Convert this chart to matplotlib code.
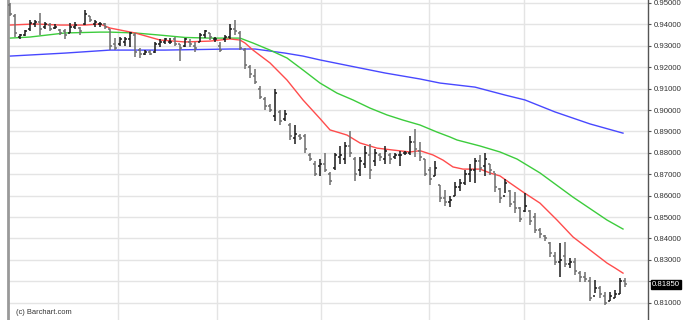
import numpy as np
import matplotlib
matplotlib.use("Agg")
import matplotlib.pyplot as plt

plt.rcParams['font.family'] = ['Liberation Sans', 'DejaVu Sans']

# daily OHLC bars, oldest first
highs = [.9500, .9450, .9355, .9375, .9420, .9420, .9455, .9410, .9405, .9400,
         .9380, .9380, .9405, .9410, .9390, .9465, .9440, .9420, .9410, .9405,
         .9380, .9335, .9340, .9340, .9365, .9360, .9290, .9280, .9280, .9320,
         .9330, .9335, .9335, .9340, .9310, .9335, .9330, .9320, .9360, .9375,
         .9360, .9340, .9320, .9350, .9400, .9420, .9370, .9290, .9210, .9190,
         .9110, .9060, .9030, .9100, .9000, .9000, .8940, .8930, .8890, .8890,
         .8800, .8760, .8770, .8800, .8710, .8800, .8830, .8850, .8900, .8780,
         .8780, .8830, .8840, .8820, .8800, .8830, .8800, .8800, .8810, .8810,
         .8880, .8910, .8850, .8770, .8735, .8760, .8650, .8625, .8600, .8665,
         .8680, .8720, .8750, .8775, .8790, .8800, .8750, .8705, .8635, .8680,
         .8625, .8615, .8545, .8610, .8535, .8520, .8450, .8415, .8385, .8335,
         .8380, .8385, .8310, .8310, .8250, .8245, .8220, .8205, .8180, .8150,
         .8150, .8160, .8215, .8215]
lows = [.9440, .9340, .9330, .9345, .9370, .9390, .9350, .9380, .9370, .9380,
        .9350, .9330, .9360, .9380, .9350, .9395, .9410, .9390, .9390, .9380,
        .9280, .9280, .9300, .9300, .9295, .9250, .9245, .9255, .9255, .9265,
        .9295, .9310, .9310, .9300, .9230, .9295, .9295, .9270, .9320, .9335,
        .9325, .9320, .9270, .9320, .9330, .9350, .9280, .9190, .9150, .9120,
        .9050, .9000, .8990, .8950, .8930, .8950, .8860, .8840, .8860, .8800,
        .8760, .8690, .8690, .8710, .8650, .8720, .8750, .8750, .8780, .8670,
        .8690, .8730, .8680, .8740, .8760, .8750, .8750, .8770, .8740, .8790,
        .8790, .8780, .8760, .8690, .8650, .8690, .8570, .8550, .8545, .8600,
        .8620, .8650, .8665, .8660, .8710, .8690, .8695, .8615, .8565, .8610,
        .8545, .8520, .8475, .8525, .8465, .8425, .8400, .8390, .8315, .8275,
        .8220, .8265, .8260, .8230, .8195, .8195, .8110, .8145, .8120, .8090,
        .8110, .8120, .8140, .8175]
opens = [.9490, .9440, .9340, .9350, .9380, .9400, .9410, .9390, .9395, .9385,
         .9375, .9370, .9360, .9390, .9385, .9400, .9440, .9400, .9400, .9400,
         .9380, .9310, .9310, .9320, .9330, .9350, .9280, .9260, .9270, .9270,
         .9310, .9320, .9320, .9330, .9310, .9300, .9320, .9300, .9320, .9350,
         .9360, .9330, .9300, .9330, .9340, .9380, .9360, .9280, .9200, .9160,
         .9100, .9050, .9020, .8970, .8990, .8960, .8930, .8870, .8880, .8880,
         .8790, .8750, .8740, .8750, .8700, .8730, .8780, .8770, .8830, .8770,
         .8720, .8750, .8790, .8760, .8790, .8770, .8790, .8780, .8790, .8800,
         .8800, .8850, .8810, .8770, .8720, .8690, .8650, .8590, .8570, .8600,
         .8640, .8660, .8700, .8720, .8760, .8740, .8750, .8710, .8630, .8600,
         .8620, .8570, .8540, .8530, .8530, .8500, .8440, .8410, .8380, .8320,
         .8290, .8320, .8280, .8290, .8240, .8220, .8200, .8130, .8170, .8130,
         .8110, .8120, .8140, .8200]
closes = [.9450, .9360, .9350, .9370, .9405, .9410, .9380, .9400, .9380, .9390,
          .9360, .9350, .9390, .9395, .9370, .9450, .9420, .9410, .9400, .9390,
          .9300, .9290, .9330, .9330, .9360, .9270, .9260, .9270, .9260, .9310,
          .9320, .9330, .9320, .9310, .9290, .9330, .9310, .9290, .9350, .9370,
          .9340, .9330, .9280, .9340, .9380, .9370, .9290, .9210, .9170, .9130,
          .9060, .9020, .9000, .9080, .8950, .8980, .8880, .8890, .8870, .8820,
          .8770, .8700, .8750, .8720, .8670, .8790, .8790, .8830, .8800, .8700,
          .8760, .8800, .8720, .8800, .8780, .8810, .8770, .8790, .8790, .8800,
          .8850, .8820, .8780, .8700, .8680, .8730, .8590, .8570, .8580, .8640,
          .8660, .8700, .8720, .8760, .8730, .8770, .8720, .8640, .8590, .8660,
          .8560, .8540, .8490, .8550, .8480, .8440, .8420, .8400, .8330, .8290,
          .8300, .8280, .8290, .8250, .8220, .8210, .8120, .8170, .8140, .8100,
          .8130, .8140, .8200, .8185]

# moving averages (bar index, value)
ma_fast_idx = [-0.4, 0, 5, 10, 15, 18, 20, 25, 30, 35, 40, 44, 46, 47, 48.6, 52,
               55.4, 58.6, 62, 64, 66, 67.4, 70, 73.4, 76.6, 80, 82, 84.6, 86.6,
               88.6, 90.6, 94, 96, 98, 100, 102.6, 106, 109.4, 112.6, 116, 119.4,
               121, 122.6]
ma_fast = [.9397, .9397, .9402, .9397, .9397, .9402, .9383, .9360, .9327, .9318,
           .9322, .9332, .9327, .9313, .9280, .9220, .9140, .9047, .8960, .8907,
           .8893, .8883, .8846, .8822, .8813, .8804, .8810, .8790, .8766, .8734,
           .8724, .8724, .8706, .8692, .8659, .8617, .8565, .8486, .8407, .8346,
           .8285, .8262, .8238]
ma_mid_idx = [-0.4, 0, 4, 11, 18, 20, 25, 30, 35, 40, 46, 48.6, 52, 55.4, 58.6,
              62, 65.4, 68.6, 72, 75.4, 78.6, 82, 85.4, 88, 89.4, 94, 98, 101.4,
              106, 112.6, 119.4, 122.6]
ma_mid = [.9336, .9336, .9341, .9360, .9364, .9364, .9360, .9350, .9339, .9336,
          .9336, .9313, .9280, .9243, .9187, .9126, .9079, .9047, .9009, .8977,
          .8953, .8930, .8897, .8874, .8860, .8832, .8804, .8771, .8706, .8593,
          .8486, .8444]
ma_slow_idx = [-0.4, 0, 11, 20, 31, 44, 49, 55, 58.6, 62, 69, 75, 82, 86, 93, 99,
               103, 109, 116, 122.6]
ma_slow = [.9252, .9252, .9266, .9280, .9280, .9285, .9285, .9266, .9252, .9234,
           .9201, .9173, .9145, .9126, .9107, .9070, .9047, .8991, .8935, .8892]

price_levels = [0.81, 0.82, 0.83, 0.84, 0.85, 0.86, 0.87, 0.88, 0.89,
                0.90, 0.91, 0.92, 0.93, 0.94, 0.95]
month_starts = [21.6, 41.4, 62.2, 83.8, 102.8]
last_price = 0.8185


def bar_colors(opens, closes):
    # up bars black, down bars grey
    return ['#1a1a1a' if c >= o else '#6e6e6e' for o, c in zip(opens, closes)]


fig = plt.figure(figsize=(6.85, 3.2), dpi=100)
ax = fig.add_axes([8 / 685, 0, 640 / 685, 1])

# grid
for lvl in price_levels:
    ax.axhline(lvl, color='#e4e4e4', lw=1.0, zorder=0)
for m in month_starts:
    ax.axvline(m, color='#e4e4e4', lw=1.0, zorder=0)

# moving averages
ax.plot(ma_slow_idx, ma_slow, color='#4848ff', lw=1.0, zorder=2)
ax.plot(ma_mid_idx, ma_mid, color='#3ccc3c', lw=1.0, zorder=2)
ax.plot(ma_fast_idx, ma_fast, color='#ff4c4c', lw=1.0, zorder=2)

# OHLC bars
x = np.arange(len(closes))
cols = bar_colors(opens, closes)
ax.vlines(x, lows, highs, colors=cols, lw=1.1, zorder=3)
ax.hlines(opens, x - 0.45, x, colors=cols, lw=1.1, zorder=3)
ax.hlines(closes, x, x + 0.45, colors=cols, lw=1.1, zorder=3)

ax.set_xlim(-0.4, 127.6)
ax.set_ylim(0.8019, 0.9514)

ax.yaxis.tick_right()
ax.set_yticks(price_levels)
ax.set_yticklabels(['' if abs(p - 0.82) < 1e-9 else '%.5f' % p for p in price_levels])
ax.tick_params(axis='y', length=2.5, width=0.8, color='#555555', labelsize=5.6,
               labelcolor='#333333', pad=1.5)
ax.set_xticks([])

for side in ['top', 'bottom']:
    ax.spines[side].set_visible(False)
ax.spines['right'].set_color('#555555')
ax.spines['right'].set_linewidth(1.0)
ax.spines['left'].set_color('#999999')
ax.spines['left'].set_linewidth(2.0)

# last price flag
ax.text(1.006, last_price, '%.5f' % last_price, transform=ax.get_yaxis_transform(),
        fontsize=5.6, color='white', va='center', ha='left',
        bbox=dict(boxstyle='square,pad=0.15', fc='black', ec='black'))

ax.text(0.012, 0.022, '(c) Barchart.com', transform=ax.transAxes, fontsize=5.4,
        color='#333333', va='center', ha='left')

fig.savefig('out.png', dpi=100)
